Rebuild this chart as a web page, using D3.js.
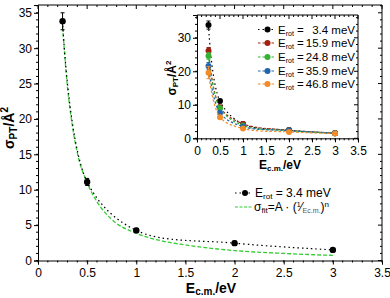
<!DOCTYPE html>
<html><head><meta charset="utf-8">
<script src="https://cdn.jsdelivr.net/npm/d3@7"></script>
<style>body{margin:0;background:#fff}svg{display:block;font-family:"Liberation Sans",Arial,sans-serif}</style>
</head><body><svg id="c" width="390" height="298"></svg>
<script>
const energies = [0.25, 0.5, 1, 2, 3];
const main34 = [33.8, 11.1, 4.25, 2.45, 1.5];
const main34Err = [1.2, 0.5, 0.3, 0.3, 0.2];
const fitE = [0.25, 0.3, 0.35, 0.4, 0.5, 0.6, 0.75, 1, 1.25, 1.5, 2, 2.5, 3];
const fitV = [33.0, 24.5, 19.0, 15.2, 11.0, 8.3, 5.8, 3.85, 2.8, 2.2, 1.4, 1.0, 0.72];
const insetLabels = ["3.4", "15.9", "24.8", "35.9", "46.8"];
const insetColors = ["#000000", "#a3200f", "#34b234", "#2166ac", "#f28c28"];
const inset34 = [33.8, 11.1, 4.25, 2.45, 1.5];
const inset159 = [26.1, 9.3, 4.3, 2.4, 1.6];
const inset248 = [24.6, 9.0, 3.8, 2.3, 1.5];
const inset359 = [21.6, 7.6, 3.5, 2.3, 1.5];
const inset468 = [19.6, 6.3, 2.9, 1.9, 1.4];
const insetErr = [[1.2,0.5,0.3,0.2,0.2],[1.0,0.5,0.3,0.2,0.2],[1.0,0.5,0.3,0.2,0.2],[1.0,0.5,0.3,0.2,0.2],[1.8,0.5,0.3,0.2,0.2]];
const insetSeries = [inset34, inset159, inset248, inset359, inset468];
const mainXTicks = [0, 0.5, 1, 1.5, 2, 2.5, 3, 3.5];
const mainYTicks = [0, 5, 10, 15, 20, 25, 30, 35];
const insetYTicks = [0, 10, 20, 30];

const svg = d3.select("#c");

function drawFrame(g, x, y, xt, yt, xMinorStep, yMinorStep, lblSize) {
  const [x0, x1] = x.range(), [y0, y1] = y.range();
  const xd = x.domain(), yd = y.domain();
  const xMinor = d3.range(xd[0], xd[1] + 1e-9, xMinorStep);
  const yMinor = d3.range(yd[0], yd[1] + 1e-9, yMinorStep);
  const bx = g.append("g").attr("transform", `translate(0,${y0})`)
    .call(d3.axisBottom(x).tickValues(xt).tickSize(4).tickPadding(4).tickFormat(d3.format("")));
  bx.selectAll(".tick text").attr("font-size", lblSize).attr("font-family", "Liberation Sans, Arial");
  bx.append("g").selectAll("line").data(xMinor).join("line")
    .attr("x1", d => x(d)).attr("x2", d => x(d)).attr("y1", 0).attr("y2", 2).attr("stroke", "#000");
  const ly = g.append("g").attr("transform", `translate(${x0},0)`)
    .call(d3.axisLeft(y).tickValues(yt).tickSize(4).tickPadding(2));
  ly.selectAll(".tick text").attr("font-size", lblSize).attr("font-family", "Liberation Sans, Arial");
  ly.append("g").selectAll("line").data(yMinor).join("line")
    .attr("y1", d => y(d)).attr("y2", d => y(d)).attr("x1", 0).attr("x2", -2).attr("stroke", "#000");
  const tx = g.append("g");
  tx.append("line").attr("x1", x0).attr("x2", x1).attr("y1", y1).attr("y2", y1).attr("stroke", "#000");
  tx.selectAll("line.mn").data(xMinor).join("line").attr("class","mn")
    .attr("x1", d => x(d)).attr("x2", d => x(d)).attr("y1", y1).attr("y2", d => y1 + (xt.some(t=>Math.abs(t-d)<1e-6)?4:2)).attr("stroke", "#000");
  const rx = g.append("g");
  rx.append("line").attr("x1", x1).attr("x2", x1).attr("y1", y0).attr("y2", y1).attr("stroke", "#000");
  rx.selectAll("line.mn").data(yMinor).join("line").attr("class","mn")
    .attr("y1", d => y(d)).attr("y2", d => y(d)).attr("x1", x1).attr("x2", d => x1 - (yt.some(t=>Math.abs(t-d)<1e-6)?4:2)).attr("stroke", "#000");
  g.selectAll(".domain").attr("stroke", "#000");
}

function drawSeries(g, x, y, vals, errs, color, dash, r) {
  const pts = energies.map((e, i) => [e, vals[i], errs[i]]);
  const line = d3.line().x(d => x(d[0])).y(d => y(d[1])).curve(d3.curveCatmullRom.alpha(0.5));
  g.append("path").attr("d", line(pts)).attr("fill", "none").attr("stroke", color)
    .attr("stroke-width", 1.2).attr("stroke-dasharray", dash);
  const eb = g.append("g").attr("stroke", color).attr("stroke-width", 1);
  pts.forEach(d => {
    eb.append("line").attr("x1", x(d[0])).attr("x2", x(d[0])).attr("y1", y(d[1]-d[2])).attr("y2", y(d[1]+d[2]));
    eb.append("line").attr("x1", x(d[0])-2).attr("x2", x(d[0])+2).attr("y1", y(d[1]-d[2])).attr("y2", y(d[1]-d[2]));
    eb.append("line").attr("x1", x(d[0])-2).attr("x2", x(d[0])+2).attr("y1", y(d[1]+d[2])).attr("y2", y(d[1]+d[2]));
  });
  g.append("g").selectAll("circle").data(pts).join("circle")
    .attr("cx", d => x(d[0])).attr("cy", d => y(d[1])).attr("r", r).attr("fill", color);
}

// ---------- main plot ----------
const mx = d3.scaleLinear().domain([0, 3.5]).range([38, 382]);
const my = d3.scaleLinear().domain([0, 36.1]).range([260.5, 5]);
const mg = svg.append("g");
drawFrame(mg, mx, my, mainXTicks, mainYTicks, 0.1, 1, 12);

const fitLine = d3.line().x(d => mx(d[0])).y(d => my(d[1])).curve(d3.curveMonotoneX);
mg.append("path").attr("d", fitLine(fitE.map((e,i)=>[e, fitV[i]]))).attr("fill","none")
  .attr("stroke", "#33cc33").attr("stroke-width", 1.3).attr("stroke-dasharray", "4,2");
drawSeries(mg, mx, my, main34, main34Err, "#000", "1.5,3", 3.2);

mg.append("text").attr("x", 211).attr("y", 293).attr("text-anchor", "middle")
  .attr("font-weight", "bold").attr("font-size", 14)
  .call(t => { t.append("tspan").text("E"); t.append("tspan").attr("font-size", 10).attr("dy", 2).text("c.m."); t.append("tspan").attr("dy", -2).text("/eV"); });
mg.append("text").attr("transform", "translate(14,128) rotate(-90)").attr("text-anchor", "middle")
  .attr("font-weight", "bold").attr("font-size", 14)
  .call(t => { t.append("tspan").text("σ"); t.append("tspan").attr("font-size", 10).attr("dy", 3).text("PT"); t.append("tspan").attr("dy", -3).text("/Å"); t.append("tspan").attr("font-size", 10).attr("dy", -6).text("2"); });

const ml = mg.append("g");
ml.append("line").attr("x1", 235).attr("x2", 253).attr("y1", 193).attr("y2", 193).attr("stroke", "#000").attr("stroke-dasharray", "1.5,3").attr("stroke-width", 1.2);
ml.append("circle").attr("cx", 245).attr("cy", 193).attr("r", 3).attr("fill", "#000");
ml.append("text").attr("x", 255).attr("y", 197).attr("font-size", 12)
  .call(t => { t.append("tspan").text("E"); t.append("tspan").attr("font-size", 8).attr("dy", 2).text("rot"); t.append("tspan").attr("dy", -2).text(" = 3.4 meV"); });
ml.append("line").attr("x1", 235).attr("x2", 253).attr("y1", 207).attr("y2", 207).attr("stroke", "#33cc33").attr("stroke-dasharray", "3,1.5").attr("stroke-width", 1.2);
ml.append("text").attr("x", 254).attr("y", 211).attr("font-size", 12)
  .call(t => { t.append("tspan").text("σ"); t.append("tspan").attr("font-size", 8).attr("dy", 2).text("fit"); t.append("tspan").attr("dy", -2).text("=A · ("); t.append("tspan").attr("font-size", 7).attr("dy", -4).text("1"); t.append("tspan").attr("dy", 4).text("⁄"); t.append("tspan").attr("font-size", 7).attr("dy", 2).attr("fill", "#555").text("Ec.m."); t.append("tspan").attr("dy", -2).text(")"); t.append("tspan").attr("font-size", 8).attr("dy", -4).text("n"); });

// ---------- inset ----------
const ig = svg.append("g");
ig.append("rect").attr("x", 165).attr("y", 12).attr("width", 208).attr("height", 160).attr("fill", "#fff");
const ix = d3.scaleLinear().domain([0, 3.5]).range([197, 358]);
const iy = d3.scaleLinear().domain([0, 36.8]).range([138.3, 15]);
drawFrame(ig, ix, iy, mainXTicks, insetYTicks, 0.1, 2, 12);
const dashes = ["1.5,3", "2.5,2", "2.5,2", "2.5,2", "2.5,2"];
insetSeries.forEach((s, k) => drawSeries(ig, ix, iy, s, insetErr[k], insetColors[k], dashes[k], 3));

ig.append("text").attr("x", 280).attr("y", 169).attr("text-anchor", "middle")
  .attr("font-weight", "bold").attr("font-size", 12)
  .call(t => { t.append("tspan").text("E"); t.append("tspan").attr("font-size", 8).attr("dy", 2).text("c.m."); t.append("tspan").attr("dy", -2).text("/eV"); });
ig.append("text").attr("transform", "translate(176,78) rotate(-90)").attr("text-anchor", "middle")
  .attr("font-weight", "bold").attr("font-size", 12)
  .call(t => { t.append("tspan").text("σ"); t.append("tspan").attr("font-size", 8).attr("dy", 2).text("PT"); t.append("tspan").attr("dy", -2).text("/Å"); t.append("tspan").attr("font-size", 8).attr("dy", -5).text("2"); });

const legY = [29.5, 43, 57, 71, 84];
insetLabels.forEach((lab, k) => {
  const yy = legY[k];
  ig.append("line").attr("x1", 258).attr("x2", 276).attr("y1", yy).attr("y2", yy).attr("stroke", insetColors[k]).attr("stroke-dasharray", dashes[k]).attr("stroke-width", 1.2);
  ig.append("circle").attr("cx", 267.5).attr("cy", yy).attr("r", 3).attr("fill", insetColors[k]);
  const t = ig.append("text").attr("x", 278).attr("y", yy + 4).attr("font-size", 11.5);
  t.append("tspan").text("E"); t.append("tspan").attr("font-size", 7).attr("dy", 2).text("rot");
  t.append("tspan").attr("dy", -2).text(" =");
  ig.append("text").attr("x", 355).attr("y", yy + 4).attr("font-size", 11.5).attr("text-anchor", "end").text(lab + " meV");
});
</script></body></html>
